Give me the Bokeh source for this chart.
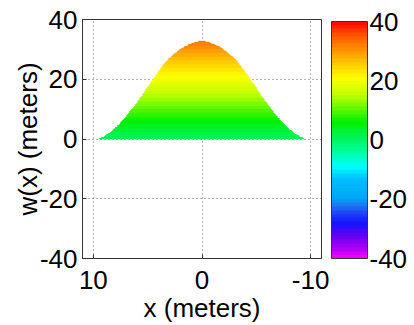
import numpy as np
from bokeh.plotting import figure
from bokeh.models import Range1d, LinearColorMapper, ColorBar, FixedTicker
from bokeh.embed import file_html
from bokeh.resources import INLINE

# ---- data ----
x_pos = [-9.55, -9.3, -9.0, -8.5, -8.0, -7.5, -7.0, -6.5, -6.0, -5.5, -5.0, -4.5, -4.0, -3.5, -3.0, -2.5, -2.0, -1.5, -1.0, -0.5,
         0.0, 0.5, 1.0, 1.5, 2.0, 2.5, 3.0, 3.5, 4.0, 4.5, 5.0, 5.5, 6.0, 6.5, 7.0, 7.5, 8.0, 8.5, 9.0, 9.3, 9.55]
w_vals = [0.0, 0.35, 0.9, 2.0, 3.5, 5.3, 7.3, 9.6, 11.9, 14.4, 17.3, 19.9, 22.5, 24.9, 27.0, 28.6, 30.0, 31.1, 31.9, 32.5,
          32.7, 32.5, 31.9, 31.1, 30.0, 28.6, 27.0, 24.9, 22.5, 19.9, 17.3, 14.4, 11.9, 9.6, 7.3, 5.3, 3.5, 2.0, 0.9, 0.35, 0.0]
x_ticks = [10, 0, -10]
x_tick_labels = ["10", "0", "-10"]
y_ticks = [-40, -20, 0, 20, 40]
y_tick_labels = ["-40", "-20", "0", "20", "40"]
cbar_ticks = [-40, -20, 0, 20, 40]
cbar_tick_labels = ["-40", "-20", "0", "20", "40"]
c_low, c_high = -40, 40

# colormap anchors sampled from the colour bar
anchor_v = [-40, -37, -33, -28, -25, -22, -20, -13, -9, -4, 0, 6, 15, 21, 25, 30, 35, 40]
anchor_rgb = [(255, 0, 255), (180, 0, 245), (110, 0, 240), (20, 20, 255), (30, 60, 250), (30, 120, 240),
              (0, 165, 245), (0, 190, 255), (0, 255, 255), (0, 255, 160), (0, 245, 100), (0, 240, 0),
              (190, 255, 0), (255, 255, 0), (255, 210, 0), (255, 150, 0), (255, 90, 0), (255, 0, 0)]

n_col = 64
centers = c_low + (np.arange(n_col) + 0.5) * (c_high - c_low) / n_col
arr = np.array(anchor_rgb, dtype=float)
palette = []
for c in centers:
    r = np.interp(c, anchor_v, arr[:, 0])
    g = np.interp(c, anchor_v, arr[:, 1])
    b = np.interp(c, anchor_v, arr[:, 2])
    palette.append("#%02x%02x%02x" % (int(round(r)), int(round(g)), int(round(b))))

mapper = LinearColorMapper(palette=palette, low=c_low, high=c_high, nan_color="rgba(0,0,0,0)")

FONT = "Liberation Sans"
FS = "26px"

p = figure(frame_width=239, frame_height=239, output_backend="svg", toolbar_location=None,
           x_range=Range1d(11, -11), y_range=Range1d(-40, 40),
           min_border_left=82, min_border_top=19, min_border_bottom=64, min_border_right=93)
p.background_fill_color = "white"
p.border_fill_color = "white"
p.outline_line_color = "#333333"
p.outline_line_width = 1

# filled shape coloured by height: image masked above the curve
xmin, xmax = min(x_pos), max(x_pos)
ytop = max(w_vals) + 0.5
nx, ny = 480, 240
xc = xmin + (np.arange(nx) + 0.5) * (xmax - xmin) / nx
yc = (np.arange(ny) + 0.5) * ytop / ny
wc = np.interp(xc, x_pos, w_vals)
img = np.where(yc[:, None] <= wc[None, :], yc[:, None] * np.ones((1, nx)), np.nan)
p.image(image=[img], x=xmin, y=0, dw=xmax - xmin, dh=ytop, color_mapper=mapper)

# axes
p.xaxis.ticker = FixedTicker(ticks=x_ticks)
p.yaxis.ticker = FixedTicker(ticks=y_ticks)
p.xaxis.major_label_overrides = dict(zip(x_ticks, x_tick_labels))
p.yaxis.major_label_overrides = dict(zip(y_ticks, y_tick_labels))
p.xgrid.ticker = FixedTicker(ticks=x_ticks)
p.ygrid.ticker = FixedTicker(ticks=y_ticks)
for g in (p.xgrid, p.ygrid):
    g.grid_line_color = "#666666"
    g.grid_line_dash = "1 3"
    g.grid_line_width = 1
for ax in (p.xaxis, p.yaxis):
    ax.major_tick_in = 4
    ax.major_tick_out = 0
    ax.minor_tick_line_color = None
    ax.axis_line_color = "#333333"
    ax.major_tick_line_color = "#333333"
    ax.major_label_text_font = FONT
    ax.major_label_text_font_size = FS
    ax.major_label_text_color = "black"
    ax.axis_label_text_font = FONT
    ax.axis_label_text_font_size = FS
    ax.axis_label_text_font_style = "normal"
    ax.axis_label_text_color = "black"
p.xaxis.axis_label = "x (meters)"
p.yaxis.axis_label = "w(x) (meters)"
p.xaxis.major_label_standoff = 12
p.yaxis.major_label_standoff = 5
p.xaxis.axis_label_standoff = 1
p.yaxis.axis_label_standoff = -6

cb = ColorBar(color_mapper=mapper, ticker=FixedTicker(ticks=cbar_ticks), width=36, height=237,
              location=(249, 0), padding=0, margin=0, label_standoff=2,
              major_label_overrides=dict(zip(cbar_ticks, cbar_tick_labels)),
              major_label_text_font=FONT, major_label_text_font_size=FS, major_label_text_color="black",
              major_tick_in=0, major_tick_out=0, minor_tick_line_color=None,
              bar_line_color="#333333", bar_line_width=1,
              background_fill_color=None, border_line_color=None)
p.add_layout(cb, "center")

open("out.html", "w").write(file_html(p, INLINE))
